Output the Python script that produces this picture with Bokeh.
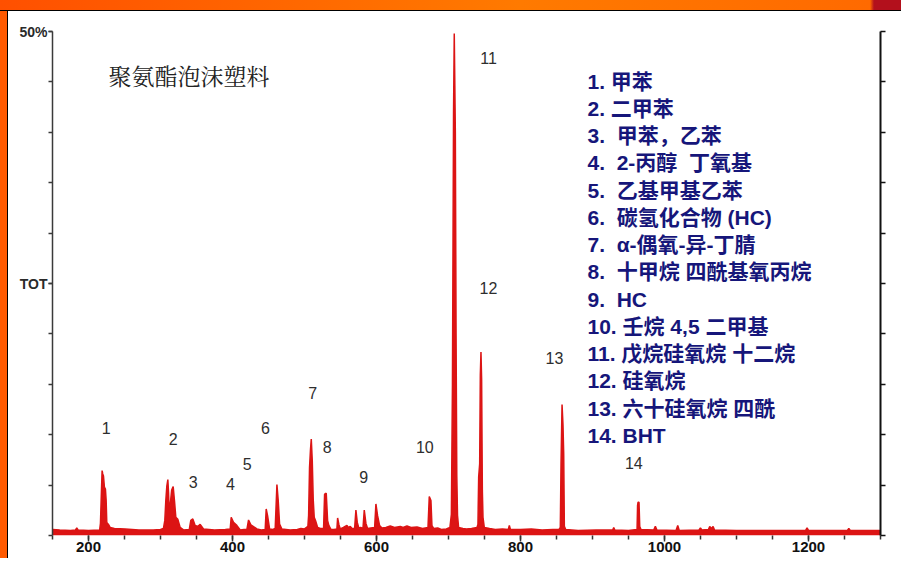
from bokeh.plotting import figure
from bokeh.models import Range1d, LinearAxis, FixedTicker, Div
from bokeh.layouts import column, row
from bokeh.core.properties import value
from bokeh.embed import file_html
from bokeh.resources import INLINE

# ---------------- data ----------------
# retention (scan) values and relative abundance in %
rt = [150, 160, 175, 182, 183.7, 185.5, 200, 215.5,
      216.6, 217.8, 218.9, 219.8, 220.8, 222.1, 223.5, 224.5, 225.4, 227.7, 230.0, 236, 250.9, 270, 290, 300, 304.1,
      306, 307.4, 308.8, 310.2, 311.2, 312.0, 313.4, 315.5, 317.6, 319.4, 321.3, 324.1, 327.3, 331.9,
      340, 342.1, 344.9, 348.1, 352, 355.1, 359.7, 375, 390,
      396.8, 398.2, 401.4, 406.0, 410.7, 416,
      420, 422.3, 425.5, 429.2, 433.9, 440,
      445.4, 446.8, 448.7, 451.5, 456,
      459.3, 461.7, 463.5, 465.4, 468.6, 480, 490, 495, 500,
      504.7, 505.7, 507.0, 508.3, 509.4, 510.8, 512.1, 513.5, 515.4, 518.2, 522,
      526.5, 527.9, 530.2, 532.1, 533.9, 536.7, 541,
      545.0, 546.0, 547.8, 549.7, 554, 558.9, 561, 563.6, 566,
      569.6, 571.4, 573.3, 575.6, 578,
      581.2, 583.0, 585.3, 587.6, 592,
      597.4, 599.2, 601.5, 604.3, 607.6, 613, 619.1, 625, 633, 637, 642.3, 648, 656.2, 664,
      671.5, 673.3, 675.6, 677.0, 679.4, 685, 690, 697,
      702, 704, 705.5, 707, 708, 709.5, 710.5, 711.5, 712.5, 714, 720, 725, 732,
      739.5, 740.9, 741.9, 743.3, 744.2, 745.1, 746.0, 747.0, 747.9, 749.7, 757, 765, 775,
      783, 784.5, 786, 800, 815, 830, 845,
      853.5, 855.3, 856.3, 857.7, 859.0, 860.0, 860.9, 862.8, 880, 905, 928, 929.5, 931, 950,
      961.9, 962.6, 963.3, 964.6, 965.6, 967.4, 985, 987.3, 989.5, 1016, 1018.4, 1020.5,
      1048, 1049.9, 1052, 1061, 1062.8, 1065, 1067.5, 1069.5, 1100, 1150, 1196, 1198, 1200,
      1254, 1256, 1258, 1300]
abundance = [0.6, 0.55, 0.5, 0.55, 0.75, 0.55, 0.5, 0.55,
             1.2, 4.0, 6.44, 6.1, 5.9, 4.8, 4.6, 3.5, 1.3, 1.1, 0.8, 0.7, 0.65, 0.55, 0.55, 0.6, 0.7,
             1.5, 3.5, 4.9, 5.54, 4.2, 2.5, 3.0, 4.5, 4.85, 3.46, 1.8, 1.6, 0.8, 0.55,
             0.6, 1.5, 1.64, 1.0, 0.9, 1.1, 0.65, 0.55, 0.6,
             0.65, 1.8, 1.3, 1.0, 0.55, 0.6,
             0.6, 1.54, 1.05, 0.88, 0.65, 0.55,
             0.6, 2.63, 1.97, 0.65, 0.6,
             0.7, 5.05, 3.46, 1.14, 0.65, 0.55, 0.6, 0.7, 0.65,
             0.9, 1.97, 6.77, 8.5, 9.58, 7.4, 3.6, 1.8, 1.47, 0.8, 0.7,
             0.7, 4.1, 4.19, 1.47, 0.98, 0.6, 0.6,
             0.65, 1.74, 1.07, 0.65, 0.8, 1.0, 0.8, 0.9, 0.7,
             0.7, 2.53, 1.3, 0.7, 0.8,
             0.7, 2.53, 1.2, 0.7, 0.75,
             0.8, 3.13, 1.97, 0.98, 0.75, 0.8, 0.95, 0.8, 0.9, 0.8, 0.95, 0.8, 0.85, 0.7,
             0.8, 3.86, 3.46, 0.98, 0.7, 0.75, 0.6, 0.65,
             0.8, 2.1, 15.0, 42.0, 49.8, 40.0, 20.0, 6.0, 2.0, 0.8, 0.7, 0.65, 0.7,
             0.8, 1.1, 5.8, 7.1, 15.9, 18.2, 15.5, 4.5, 1.8, 0.8, 0.7, 0.6, 0.65,
             0.6, 1.0, 0.6, 0.6, 0.65, 0.55, 0.6,
             0.6, 0.8, 7.1, 13.0, 11.0, 8.1, 0.9, 0.6, 0.5, 0.55, 0.55, 0.8, 0.55, 0.5,
             0.6, 3.0, 3.3, 3.3, 0.9, 0.6, 0.55, 0.9, 0.55, 0.5, 1.0, 0.5,
             0.55, 0.75, 0.55, 0.6, 0.9, 0.7, 0.9, 0.55, 0.5, 0.5, 0.5, 0.75, 0.5,
             0.5, 0.7, 0.5, 0.5]

peak_ids = ["1", "2", "3", "4", "5", "6", "7", "8", "9", "10", "11", "12", "13", "14"]

compound_names = [
    "1. 甲苯",
    "2. 二甲苯",
    "3.\u00a0 甲苯，乙苯",
    "4.\u00a0 2-丙醇\u00a0 丁氧基",
    "5.\u00a0 乙基甲基乙苯",
    "6.\u00a0 碳氢化合物 (HC)",
    "7.\u00a0 α-偶氧-异-丁腈",
    "8.\u00a0 十甲烷 四酰基氧丙烷",
    "9.\u00a0 HC",
    "10. 壬烷 4,5 二甲基",
    "11. 戊烷硅氧烷 十二烷",
    "12. 硅氧烷",
    "13. 六十硅氧烷 四酰",
    "14. BHT",
]

x_tick_values = [200, 400, 600, 800, 1000, 1200]
x_tick_labels = ["200", "400", "600", "800", "1000", "1200"]
y_tick_values = [25, 50]
y_tick_labels = ["TOT", "50%"]

chart_title = "聚氨酯泡沫塑料"

# ---------------- layout helpers (picture px -> data) ----------------
X0, X1, Y0, Y1 = 150, 1300, 0, 50
FRAME_LEFT, FRAME_W = 52, 828
FRAME_BOTTOM, FRAME_H = 535, 504
PAGE_W, PAGE_H = 901, 558
LEFT_BAND, TOP_BAND = 10, 11


def sx(px):
    return X0 + (px - FRAME_LEFT) * (X1 - X0) / FRAME_W


def sy(py):
    return Y0 + (FRAME_BOTTOM - py) * (Y1 - Y0) / FRAME_H


RED = "#dc1414"
NAVY = "#16167a"

fig_w = PAGE_W - LEFT_BAND
fig_h = PAGE_H - TOP_BAND
p = figure(width=fig_w, height=fig_h, x_range=Range1d(X0, X1), y_range=Range1d(Y0, Y1),
           output_backend="svg", toolbar_location=None, title=None, margin=0,
           min_border_left=FRAME_LEFT - LEFT_BAND,
           min_border_right=PAGE_W - (FRAME_LEFT + FRAME_W),
           min_border_top=FRAME_BOTTOM - FRAME_H - TOP_BAND,
           min_border_bottom=PAGE_H - FRAME_BOTTOM)
p.outline_line_color = None
p.xgrid.visible = False
p.ygrid.visible = False
p.background_fill_color = "white"
p.border_fill_color = "white"

# bottom axis
xa = p.xaxis[0]
xa.ticker = FixedTicker(ticks=x_tick_values, minor_ticks=list(range(150, 1301, 50)))
xa.major_label_overrides = {v: t for v, t in zip(x_tick_values, x_tick_labels)}
xa.axis_line_color = None
xa.major_tick_out = 6
xa.major_tick_in = 0
xa.minor_tick_out = 4
xa.minor_tick_in = 0
xa.major_tick_line_color = "#333333"
xa.minor_tick_line_color = "#333333"
xa.major_tick_line_width = 1.5
xa.minor_tick_line_width = 1.5
xa.major_label_text_font = "Liberation Sans"
xa.major_label_text_font_size = "15px"
xa.major_label_text_font_style = "bold"
xa.major_label_text_color = "#111111"
xa.major_label_standoff = 0

# left axis
ya = p.yaxis[0]
ya.ticker = FixedTicker(ticks=y_tick_values, minor_ticks=list(range(0, 51, 5)))
ya.major_label_overrides = {v: t for v, t in zip(y_tick_values, y_tick_labels)}
ya.axis_line_color = "#3a3a3a"
ya.axis_line_width = 1.5
ya.major_tick_out = 4
ya.major_tick_in = 0
ya.minor_tick_out = 4
ya.minor_tick_in = 0
ya.major_tick_line_color = "#3a3a3a"
ya.minor_tick_line_color = "#3a3a3a"
ya.major_tick_line_width = 1.5
ya.minor_tick_line_width = 1.5
ya.major_label_text_font = "Liberation Sans"
ya.major_label_text_font_size = "14px"
ya.major_label_text_font_style = "bold"
ya.major_label_text_color = "#2a2a2a"
ya.major_label_standoff = 1

# right axis (ticks only)
ra = LinearAxis(ticker=FixedTicker(ticks=[], minor_ticks=list(range(0, 51, 5))))
ra.axis_line_color = "#111111"
ra.axis_line_width = 2
ra.minor_tick_out = 5
ra.minor_tick_in = 0
ra.minor_tick_line_color = "#111111"
ra.minor_tick_line_width = 1.5
ra.major_tick_out = 0
p.add_layout(ra, "right")

# chromatogram trace
p.varea(x=rt, y1=0, y2=abundance, fill_color=RED)
p.line(rt, abundance, line_color=RED, line_width=1.5)

# peak numbers
peak_label_px = [(105.7, 427.3), (172.7, 438.3), (192.7, 481), (230, 483.3), (246.7, 463.3),
                 (265, 427.3), (312.3, 392.7), (326.7, 446), (363.3, 476.7), (424.3, 446),
                 (488, 57), (488, 287), (554, 357.7), (633.3, 462.3)]
p.text(x=[sx(a) for a, b in peak_label_px], y=[sy(b) for a, b in peak_label_px], text=peak_ids,
       text_font=value("Liberation Sans"), text_font_size="16px", text_color="#2e2e2e",
       text_align="center", text_baseline="middle")

# compound list
list_y = [sy(80.7 + i * 27.25) for i in range(len(compound_names))]
p.text(x=[sx(587)] * len(compound_names), y=list_y, text=compound_names,
       text_font=value("Liberation Sans, Noto Sans CJK SC"), text_font_size="21px",
       text_font_style="bold", text_color=NAVY, text_align="left", text_baseline="middle")

# title inside the chart
p.text(x=[sx(108)], y=[sy(75)], text=[chart_title],
       text_font=value("Noto Serif CJK SC, Noto Sans CJK SC"), text_font_size="23px",
       text_color="#222222", text_align="left", text_baseline="middle")

# slide frame (orange bands around the chart picture)
top_band = Div(width=PAGE_W, height=TOP_BAND, margin=0, styles={
    "background": "linear-gradient(to right, #ff5000 0px, #ff7a00 520px, #ff6a00 870px, #b3101c 874px, #b3101c 901px)",
    "border-bottom": "1px solid #000", "box-sizing": "border-box"})
left_band = Div(width=LEFT_BAND, height=fig_h, margin=0, styles={
    "background": "linear-gradient(to right, #ff5a00 0px, #ff5a00 7px, #000000 7px, #000000 8.5px, #ffffff 8.5px)"})

layout = column(top_band, row(left_band, p, spacing=0, margin=0), spacing=0, margin=0)

open("out.html", "w").write(file_html(layout, INLINE))
